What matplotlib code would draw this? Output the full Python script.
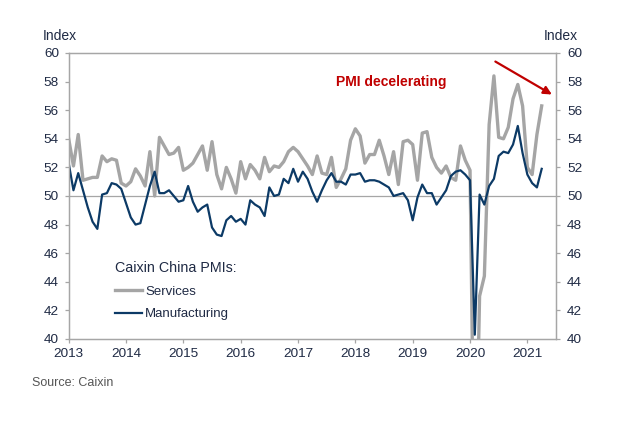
import matplotlib.pyplot as plt
import numpy as np

plt.rcParams['font.family'] = ['Liberation Sans', 'DejaVu Sans']

# monthly Caixin PMIs, Jan 2013 .. Apr 2021
services = [
    54.0, 52.1, 54.3, 51.1, 51.2, 51.3, 51.3, 52.8, 52.4, 52.6, 52.5, 50.9,   # 2013
    50.7, 51.0, 51.9, 51.4, 50.7, 53.1, 50.0, 54.1, 53.5, 52.9, 53.0, 53.4,   # 2014
    51.8, 52.0, 52.3, 52.9, 53.5, 51.8, 53.8, 51.5, 50.5, 52.0, 51.2, 50.2,   # 2015
    52.4, 51.2, 52.2, 51.8, 51.2, 52.7, 51.7, 52.1, 52.0, 52.4, 53.1, 53.4,   # 2016
    53.1, 52.6, 52.1, 51.5, 52.8, 51.6, 51.5, 52.7, 50.6, 51.2, 51.9, 53.9,   # 2017
    54.7, 54.2, 52.3, 52.9, 52.9, 53.9, 52.8, 51.5, 53.1, 50.8, 53.8, 53.9,   # 2018
    53.6, 51.1, 54.4, 54.5, 52.7, 52.0, 51.6, 52.1, 51.3, 51.1, 53.5, 52.5,   # 2019
    51.8, 26.5, 43.0, 44.4, 55.0, 58.4, 54.1, 54.0, 54.8, 56.8, 57.8, 56.3,   # 2020
    52.0, 51.5, 54.3, 56.3,                                                   # 2021
]
manufacturing = [
    52.3, 50.4, 51.6, 50.4, 49.2, 48.2, 47.7, 50.1, 50.2, 50.9, 50.8, 50.5,
    49.5, 48.5, 48.0, 48.1, 49.4, 50.7, 51.7, 50.2, 50.2, 50.4, 50.0, 49.6,
    49.7, 50.7, 49.6, 48.9, 49.2, 49.4, 47.8, 47.3, 47.2, 48.3, 48.6, 48.2,
    48.4, 48.0, 49.7, 49.4, 49.2, 48.6, 50.6, 50.0, 50.1, 51.2, 50.9, 51.9,
    51.0, 51.7, 51.2, 50.3, 49.6, 50.4, 51.1, 51.6, 51.0, 51.0, 50.8, 51.5,
    51.5, 51.6, 51.0, 51.1, 51.1, 51.0, 50.8, 50.6, 50.0, 50.1, 50.2, 49.7,
    48.3, 49.9, 50.8, 50.2, 50.2, 49.4, 49.9, 50.4, 51.4, 51.7, 51.8, 51.5,
    51.1, 40.3, 50.1, 49.4, 50.7, 51.2, 52.8, 53.1, 53.0, 53.6, 54.9, 53.0,
    51.5, 50.9, 50.6, 51.9,
]
years = list(range(2013, 2022))
yticks = list(range(40, 61, 2))

t = 2013 + np.arange(len(services)) / 12.0

txt = '#1f2a44'
spine = '#a6a6a6'
fs = 9.7

fig = plt.figure(figsize=(6.4, 4.24), dpi=100)
ax = fig.add_axes([0.1073, 0.2005, 0.7615, 0.6745])

ax.axhline(50, color=spine, lw=0.9, zorder=1)
ax.plot(t, services, color='#a5a5a5', lw=2.4, label='Services', zorder=2)
ax.plot(t, manufacturing, color='#0c3a66', lw=1.6, label='Manufacturing', zorder=3)

ax.set_xlim(2013, 2021.5)
ax.set_ylim(40, 60)
ax.set_xticks(years)
ax.set_yticks(yticks)
ax.tick_params(axis='both', colors=spine, labelcolor=txt, labelsize=fs, length=3, width=0.9)
ax.tick_params(axis='y', pad=4)
for s in ax.spines.values():
    s.set_color(spine)
    s.set_linewidth(0.9)

ax2 = ax.twinx()
ax2.set_ylim(40, 60)
ax2.set_yticks(yticks)
ax2.tick_params(axis='y', colors=spine, labelcolor=txt, labelsize=fs, length=3, width=0.9, pad=5)
for s in ax2.spines.values():
    s.set_color(spine)
    s.set_linewidth(0.9)

fig.text(43 / 640, 1 - 36 / 424, 'Index', fontsize=10, color=txt, va='center', ha='left')
fig.text(544 / 640, 1 - 36 / 424, 'Index', fontsize=10, color=txt, va='center', ha='left')

leg = ax.legend(loc='upper left', bbox_to_anchor=(0.07, 0.315), frameon=False,
                title='Caixin China PMIs:', fontsize=9.5, handlelength=2.1,
                handletextpad=0.2, labelspacing=0.8, labelcolor=txt)
leg.get_title().set_fontsize(10.3)
leg.get_title().set_color(txt)
leg._legend_box.align = 'left'

ax.text(2017.66, 58.0, 'PMI decelerating', color='#c00000', fontsize=10,
        fontweight='bold', va='center', ha='left')
ax.annotate('', xy=(2021.47, 57.0), xytext=(2020.40, 59.5),
            arrowprops=dict(arrowstyle='-|>', color='#c00000', lw=1.6,
                            mutation_scale=12), annotation_clip=False)

fig.text(32 / 640, 1 - 383 / 424, 'Source: Caixin', fontsize=9, color='#555555',
         va='center', ha='left')

fig.savefig('out.png', dpi=100)
